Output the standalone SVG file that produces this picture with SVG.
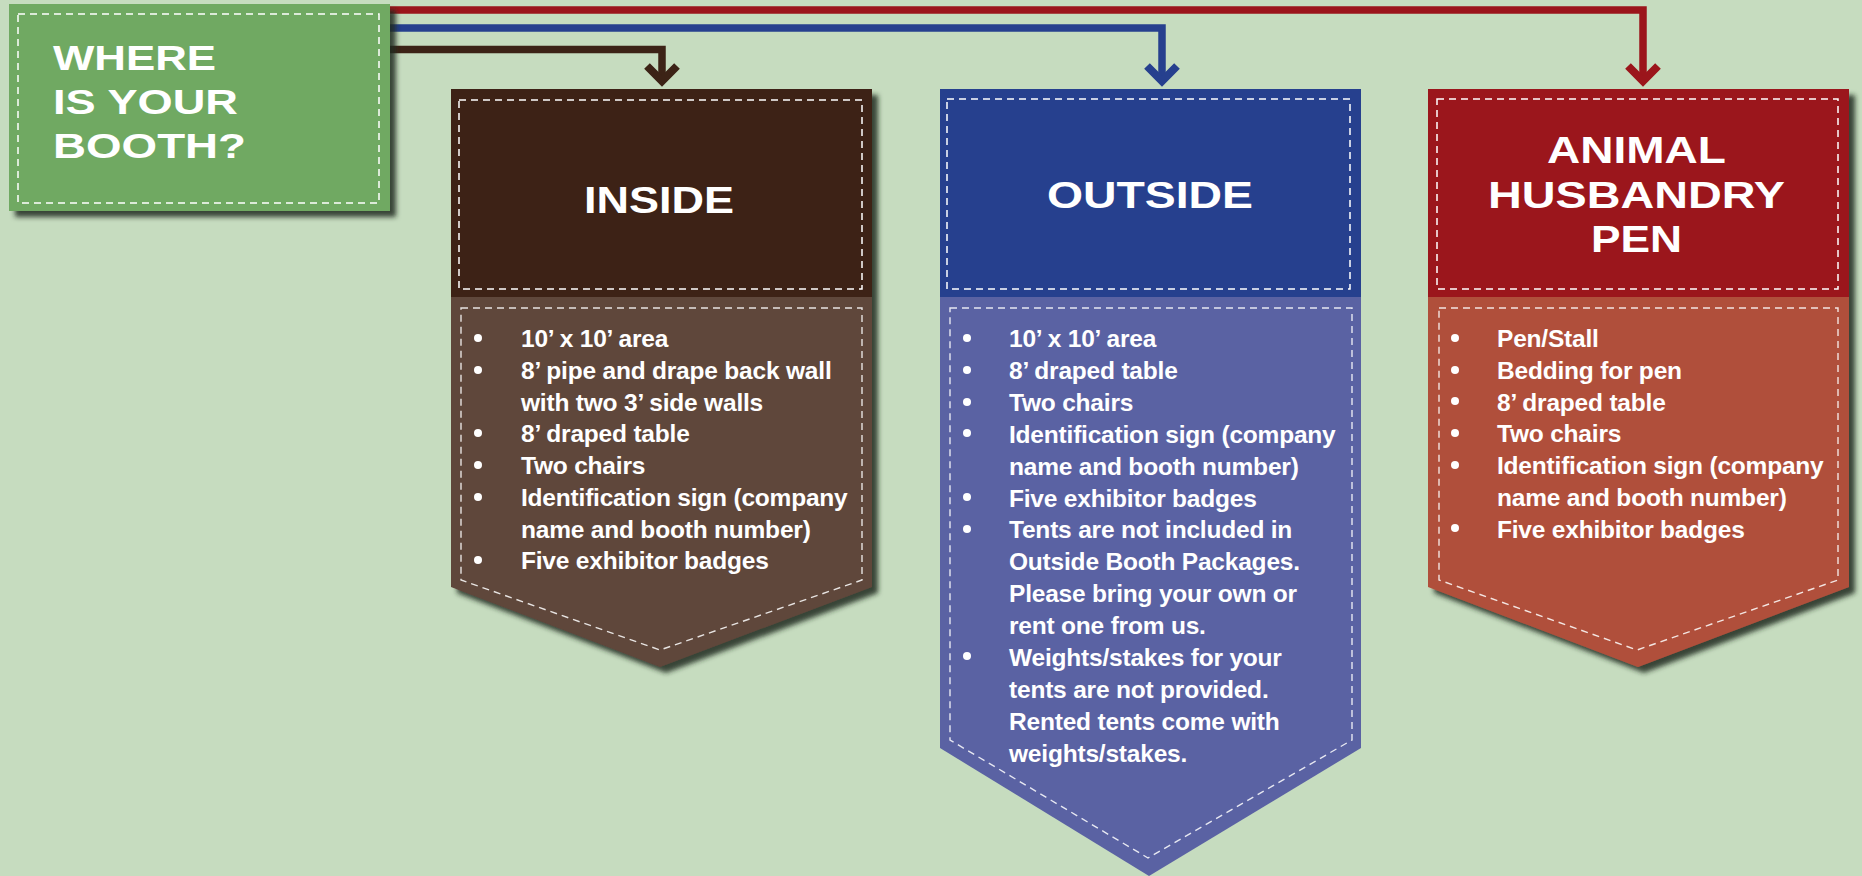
<svg xmlns="http://www.w3.org/2000/svg" width="1862" height="876" viewBox="0 0 1862 876">
<defs>
<style>
.title{font-family:"Liberation Sans",Arial,sans-serif;font-weight:bold;fill:#fff;}
.item{font-family:"Liberation Sans",Arial,sans-serif;font-weight:bold;font-size:24.5px;letter-spacing:-0.2px;fill:#fff;}
.dash{fill:none;stroke:#fff;stroke-width:1.5;stroke-dasharray:7 5;}
.dashb{fill:none;stroke:#fff;stroke-opacity:0.85;stroke-width:1.4;stroke-dasharray:7 5;}
.conn{fill:none;stroke-width:7.5;stroke-linejoin:miter;}
.head{fill:none;stroke-width:8;stroke-linejoin:miter;stroke-linecap:butt;}
.dot{fill:#fff;}
</style>
<filter id="shadow" x="-10%" y="-10%" width="130%" height="130%">
<feDropShadow dx="6" dy="6" stdDeviation="2.5" flood-color="#202a1c" flood-opacity="0.85"/>
</filter>
</defs>
<rect x="0" y="0" width="1862" height="876" fill="#c6dcbf"/>

<g id="connectors">
<path class="conn" stroke="#9b151b" d="M385,10 H1643 V82"/>
<polyline class="head" stroke="#9b151b" points="1628,66 1643,81 1658,66"/>
<path class="conn" stroke="#26408e" d="M385,28 H1162 V82"/>
<polyline class="head" stroke="#26408e" points="1147,66 1162,81 1177,66"/>
<path class="conn" stroke="#3c2316" d="M385,49.5 H662 V82"/>
<polyline class="head" stroke="#3c2316" points="647,66 662,81 677,66"/>
</g>

<g id="question">
<rect x="9" y="4" width="381" height="207" fill="#6fa962" filter="url(#shadow)"/>
<rect class="dash" x="18" y="14" width="361" height="189"/>
<text class="title" font-size="35" x="53" y="70" textLength="163" lengthAdjust="spacingAndGlyphs">WHERE</text>
<text class="title" font-size="35" x="53" y="114" textLength="185" lengthAdjust="spacingAndGlyphs">IS YOUR</text>
<text class="title" font-size="35" x="53" y="158" textLength="193" lengthAdjust="spacingAndGlyphs">BOOTH?</text>
</g>

<g id="inside">
<g filter="url(#shadow)">
<rect x="451" y="89" width="421" height="208" fill="#3c2316"/>
<path d="M451,297 H872 V587 L660,667 L451,587 Z" fill="#5e463a"/>
</g>
<rect class="dash" x="459" y="100" width="403" height="189"/>
<path class="dashb" d="M461,308 H862 V580 L660,650 L461,580 Z"/>
<text class="title" font-size="37" x="584" y="213" textLength="150" lengthAdjust="spacingAndGlyphs">INSIDE</text>
<g class="dot">
<circle cx="478" cy="338" r="4"/><circle cx="478" cy="370" r="4"/><circle cx="478" cy="433" r="4"/><circle cx="478" cy="465" r="4"/><circle cx="478" cy="497" r="4"/><circle cx="478" cy="560" r="4"/>
</g>
<text class="item">
<tspan x="521" y="347">10’ x 10’ area</tspan>
<tspan x="521" y="378.8">8’ pipe and drape back wall</tspan>
<tspan x="521" y="410.5">with two 3’ side walls</tspan>
<tspan x="521" y="442.3">8’ draped table</tspan>
<tspan x="521" y="474">Two chairs</tspan>
<tspan x="521" y="505.8">Identification sign (company</tspan>
<tspan x="521" y="537.5">name and booth number)</tspan>
<tspan x="521" y="569.3">Five exhibitor badges</tspan>
</text>
</g>

<g id="outside">
<rect x="940" y="89" width="421" height="208" fill="#26408e"/>
<path d="M940,297 H1361 V748 L1149,876 L940,748 Z" fill="#5a62a3"/>
<rect class="dash" x="947" y="99" width="403" height="190"/>
<path class="dashb" d="M950,308 H1352 V740 L1148,858 L950,740 Z"/>
<text class="title" font-size="37" x="1047" y="208" textLength="206" lengthAdjust="spacingAndGlyphs">OUTSIDE</text>
<g class="dot">
<circle cx="967" cy="338" r="4"/><circle cx="967" cy="370" r="4"/><circle cx="967" cy="402" r="4"/><circle cx="967" cy="433" r="4"/><circle cx="967" cy="497" r="4"/><circle cx="967" cy="529" r="4"/><circle cx="967" cy="656" r="4"/>
</g>
<text class="item">
<tspan x="1009" y="347">10’ x 10’ area</tspan>
<tspan x="1009" y="378.9">8’ draped table</tspan>
<tspan x="1009" y="410.8">Two chairs</tspan>
<tspan x="1009" y="442.7">Identification sign (company</tspan>
<tspan x="1009" y="474.6">name and booth number)</tspan>
<tspan x="1009" y="506.5">Five exhibitor badges</tspan>
<tspan x="1009" y="538.4">Tents are not included in</tspan>
<tspan x="1009" y="570.3">Outside Booth Packages.</tspan>
<tspan x="1009" y="602.2">Please bring your own or</tspan>
<tspan x="1009" y="634.1">rent one from us.</tspan>
<tspan x="1009" y="666">Weights/stakes for your</tspan>
<tspan x="1009" y="697.9">tents are not provided.</tspan>
<tspan x="1009" y="729.8">Rented tents come with</tspan>
<tspan x="1009" y="761.7">weights/stakes.</tspan>
</text>
</g>

<g id="animal">
<g filter="url(#shadow)">
<rect x="1428" y="89" width="421" height="208" fill="#9b151b"/>
<path d="M1428,297 H1849 V587 L1638,667 L1428,587 Z" fill="#b0503b"/>
</g>
<rect class="dash" x="1437" y="99" width="401" height="190"/>
<path class="dashb" d="M1439,308 H1838 V580 L1637,650 L1439,580 Z"/>
<text class="title" font-size="36" x="1547" y="163" textLength="179" lengthAdjust="spacingAndGlyphs">ANIMAL</text>
<text class="title" font-size="36" x="1488" y="208" textLength="297" lengthAdjust="spacingAndGlyphs">HUSBANDRY</text>
<text class="title" font-size="36" x="1591" y="252" textLength="91" lengthAdjust="spacingAndGlyphs">PEN</text>
<g class="dot">
<circle cx="1455" cy="338" r="4"/><circle cx="1455" cy="370" r="4"/><circle cx="1455" cy="401" r="4"/><circle cx="1455" cy="433" r="4"/><circle cx="1455" cy="465" r="4"/><circle cx="1455" cy="528" r="4"/>
</g>
<text class="item">
<tspan x="1497" y="347">Pen/Stall</tspan>
<tspan x="1497" y="378.8">Bedding for pen</tspan>
<tspan x="1497" y="410.5">8’ draped table</tspan>
<tspan x="1497" y="442.3">Two chairs</tspan>
<tspan x="1497" y="474">Identification sign (company</tspan>
<tspan x="1497" y="505.8">name and booth number)</tspan>
<tspan x="1497" y="537.5">Five exhibitor badges</tspan>
</text>
</g>
</svg>
